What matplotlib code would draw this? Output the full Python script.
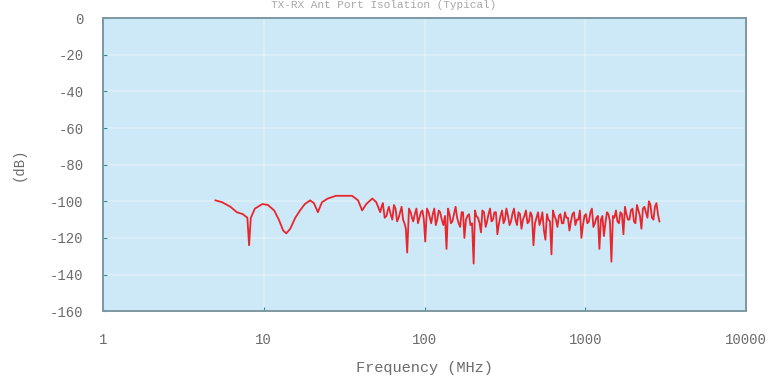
import numpy as np
import matplotlib
matplotlib.use("Agg")
import matplotlib.pyplot as plt

# smooth low-frequency part (MHz, dB)
freq_low = [5.0, 5.5, 6.2, 6.8, 7.4, 7.9, 8.1, 8.3, 8.8, 9.8, 10.6, 11.6, 12.4, 13.2,
            13.8, 14.6, 15.7, 16.8, 18.0, 19.4, 20.5, 21.7, 23.0, 25.0, 28.1, 32.0,
            35.4, 38.6, 40.9, 43.4, 47.3, 50.1]
db_low = [-99.5, -100.5, -103, -106, -107, -109, -124, -109, -104, -101.5, -102, -105,
          -110, -116, -117.5, -115, -109, -105, -101.5, -99.5, -101, -106, -100.5,
          -98.5, -97, -97, -97, -99.5, -105, -101.5, -98.5, -100.5]

# noisy part above ~50 MHz
freq_high = [53, 55, 58, 60, 63, 66, 69, 72, 75, 78, 82, 85, 89, 93, 97, 101, 106, 110,
             115, 120, 125, 131, 137, 143, 149, 156, 163, 170, 177, 185, 193, 202, 210,
             220, 229, 240, 250, 261, 272, 284, 297, 310, 323, 338, 352, 368, 384, 401,
             418, 437, 456, 476, 497, 519, 541, 565, 590, 616, 643, 671, 700, 731, 763,
             797, 832, 868, 906, 946, 988, 1030, 1076, 1123, 1173, 1224, 1278, 1334,
             1393, 1454, 1518, 1585, 1654, 1727, 1803, 1882, 1965, 2051, 2141, 2235,
             2333, 2436, 2543, 2655, 2771, 2893]
db_high = [-106, -101, -108, -103, -110, -104, -109, -103, -112, -128, -106, -111, -104,
           -109, -105, -122, -106, -112, -104, -110, -106, -113, -126, -107, -111, -103,
           -112, -106, -120, -108, -113, -134, -108, -112, -105, -114, -107, -111, -106,
           -118, -108, -112, -104, -113, -107, -110, -106, -115, -108, -112, -106, -124,
           -109, -113, -106, -121, -110, -129, -108, -114, -107, -112, -109, -116, -107,
           -113, -110, -120, -108, -112, -106, -114, -109, -126, -108, -112, -107, -133,
           -109, -111, -106, -118, -107, -110, -104, -112, -105, -115, -103, -109, -102,
           -110, -101, -111]

# extra readings between the ones above
freq_mid = [54, 56.5, 59, 61.5, 64.5, 67.5, 70.5, 73.5, 76.5, 80, 83.5, 87, 91, 95, 99,
            103.5, 108, 112.5, 117.5, 122.5, 128, 134, 140, 146, 152.5, 159.5, 166.5,
            173.5, 181, 189, 197.5, 206, 215, 224.5, 234.5, 245, 255.5, 266.5, 278,
            290.5, 303.5, 316.5, 330.5, 345, 360, 376, 392.5, 409.5, 427.5, 446.5, 466,
            486.5, 508, 530, 553, 577.5, 603, 629.5, 657, 685.5, 715.5, 747, 780, 814.5,
            850, 887, 926, 967, 1009, 1053, 1099.5, 1148, 1198.5, 1251, 1306, 1363.5,
            1423.5, 1486, 1551.5, 1619.5, 1690.5, 1765, 1842.5, 1923.5, 2008, 2096,
            2188, 2284, 2384.5, 2489.5, 2599, 2713, 2832]
db_mid = [-103, -109, -105, -107, -102, -111, -106, -110, -115, -104,
          -109, -107, -112, -106, -110, -104, -109, -107, -113, -105,
          -110, -108, -104, -112, -107, -109, -114, -106, -110, -107,
          -112, -105, -109, -117, -106, -111, -104, -110, -106, -112,
          -105, -110, -108, -111, -104, -113, -107, -110, -105, -111,
          -108, -112, -106, -110, -116, -107, -111, -105, -110, -108,
          -112, -106, -109, -111, -106, -110, -105, -113, -107, -111,
          -104, -112, -108, -110, -119, -106, -111, -108, -105, -112,
          -107, -103, -110, -105, -111, -102, -108, -104, -106, -100,
          -109, -103, -107]

freq = np.array(freq_low + freq_high + freq_mid, dtype=float)
db = np.array(db_low + db_high + db_mid, dtype=float)
order = np.argsort(freq)
freq, db = freq[order], db[order]

xticks = [1, 10, 100, 1000, 10000]
yticks = list(range(0, -161, -20))

txt = "#6b6b6b"
mono = ["Liberation Mono", "DejaVu Sans Mono"]

fig = plt.figure(figsize=(7.75, 3.87), dpi=100)
ax = fig.add_axes([0.133, 0.196, 0.8296, 0.757])
ax.set_facecolor("#cde9f8")

ax.semilogx(freq, db, color="#e8262c", lw=1.3)

ax.set_xlim(1, 10000)
ax.set_ylim(-160, 0)
ax.set_xticks(xticks)
ax.set_xticklabels([str(t) for t in xticks])
ax.set_yticks(yticks)
ax.set_yticklabels([str(t) for t in yticks])
ax.minorticks_off()
ax.grid(True, color="white", alpha=0.3, lw=1.2)

ax.tick_params(direction="in", length=3, color="#2a8f8f", labelcolor=txt,
               labelsize=10)
ax.tick_params(axis="x", pad=16)
ax.tick_params(axis="y", pad=14)
for lab in ax.get_xticklabels() + ax.get_yticklabels():
    lab.set_family(mono)

for s in ax.spines.values():
    s.set_color("#7d98a2")
    s.set_linewidth(1.4)

ax.set_xlabel("Frequency (MHz)", color=txt, family=mono, fontsize=11, labelpad=10)
ax.set_ylabel("(dB)", color=txt, family=mono, fontsize=10, labelpad=18)

# title sits right at the top edge
fig.text(0.495, 0.999, "TX-RX Ant Port Isolation (Typical)", ha="center", va="top",
         color="#a8a8a8", family=mono, fontsize=8)

fig.savefig("out.png", dpi=100)
